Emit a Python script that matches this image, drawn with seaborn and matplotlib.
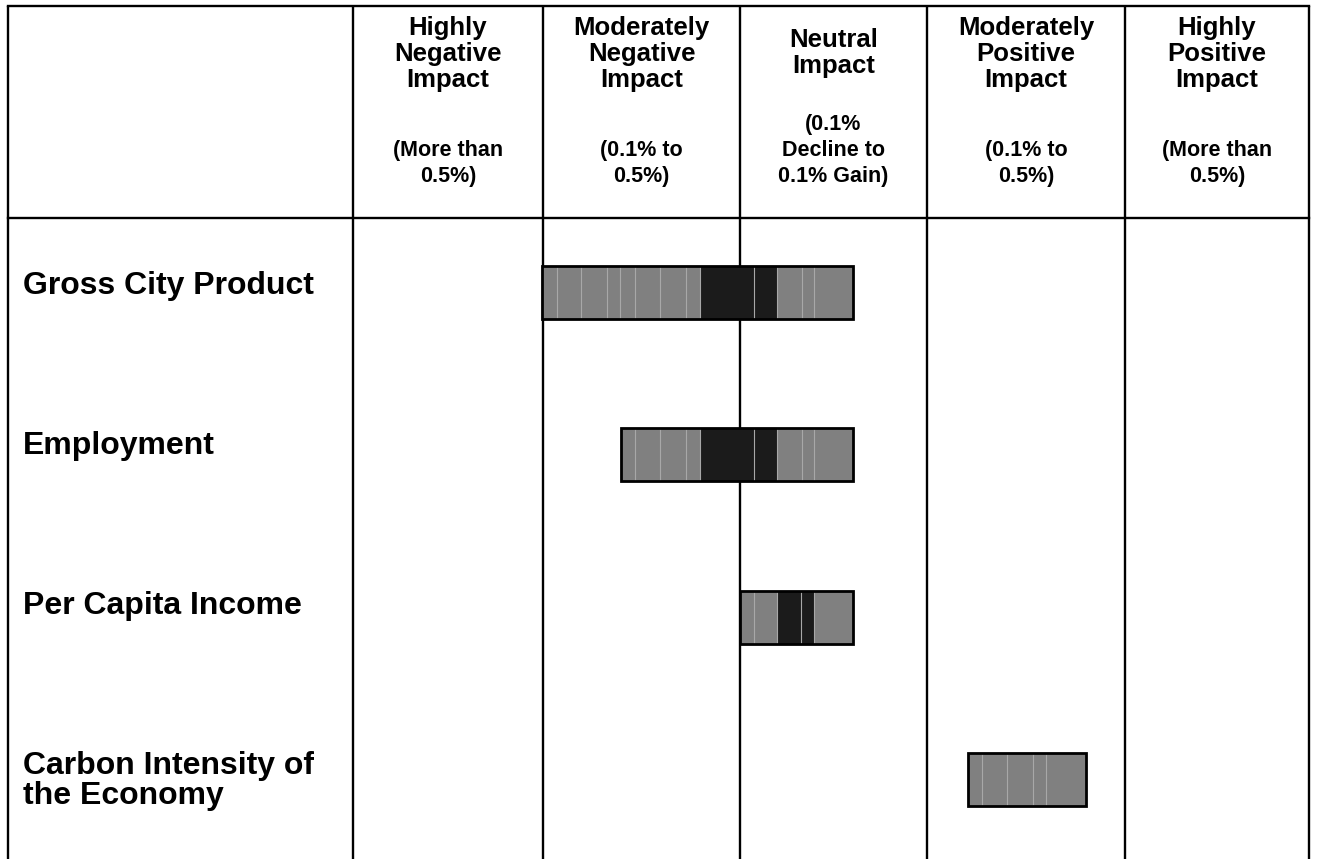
import matplotlib
matplotlib.use("Agg")
import matplotlib.pyplot as plt
import seaborn as sns

sns.set_theme(style="white")
plt.rcParams["font.family"] = ["Liberation Sans", "DejaVu Sans"]

# ---- table content -------------------------------------------------------
header_titles = [
    "Highly\nNegative\nImpact",
    "Moderately\nNegative\nImpact",
    "Neutral\nImpact",
    "Moderately\nPositive\nImpact",
    "Highly\nPositive\nImpact",
]
header_ranges = [
    "(More than\n0.5%)",
    "(0.1% to\n0.5%)",
    "(0.1%\nDecline to\n0.1% Gain)",
    "(0.1% to\n0.5%)",
    "(More than\n0.5%)",
]
indicators = [
    "Gross City Product",
    "Employment",
    "Per Capita Income",
    "Carbon Intensity of\nthe Economy",
]

# column boundaries on the impact scale (one unit per impact class)
column_edges = [0.0, 0.994, 2.024, 3.002, 4.038, 5.0]

# scenario results: segment boundaries (impact-class units) and segment kind
gcp_edges = [0.990, 1.065, 1.191, 1.330, 1.398, 1.476, 1.607, 1.743, 1.815,
             2.099, 2.216, 2.347, 2.413, 2.613]
gcp_kind = ["range"] * 8 + ["core"] * 2 + ["range"] * 3

emp_edges = [1.402, 1.476, 1.607, 1.743, 1.815, 2.099, 2.216, 2.347, 2.413, 2.613]
emp_kind = ["range"] * 4 + ["core"] * 2 + ["range"] * 3

pci_edges = [2.024, 2.099, 2.216, 2.343, 2.413, 2.613]
pci_kind = ["range"] * 2 + ["core"] * 2 + ["range"]

carbon_edges = [3.218, 3.291, 3.422, 3.558, 3.626, 3.834]
carbon_kind = ["range"] * 5

segment_edges = [gcp_edges, emp_edges, pci_edges, carbon_edges]
segment_kinds = [gcp_kind, emp_kind, pci_kind, carbon_kind]

kind_colors = {"range": "#808080", "core": "#1b1b1b"}

# ---- figure & coordinate frame ------------------------------------------
W, H, DPI = 1317, 859, 100
fig = plt.figure(figsize=(W / DPI, H / DPI), dpi=DPI)
ax = fig.add_axes([0, 0, 1, 1])

x0_px, x_scale = 353.0, 191.2      # pixel of impact-class 0, pixels per class
y0_px, y_scale = 218.0, 162.5      # pixel of header bottom, pixels per row
ax.set_xlim((0 - x0_px) / x_scale, (W - x0_px) / x_scale)
ax.set_ylim((H - y0_px) / y_scale, (0 - y0_px) / y_scale)
ax.axis("off")


def ypos(py):
    return (py - y0_px) / y_scale


left_border = (8 - x0_px) / x_scale
top_border = ypos(6)
bottom = ypos(H)

LW = 1.7
# grid lines
for xe in [left_border] + column_edges:
    ax.plot([xe, xe], [top_border, bottom], color="black", lw=LW,
            solid_capstyle="butt")
for ye in [top_border, 0.0]:
    ax.plot([left_border, column_edges[-1]], [ye, ye], color="black", lw=LW,
            solid_capstyle="projecting")

# header text
for i, (title, rng) in enumerate(zip(header_titles, header_ranges)):
    xc = (column_edges[i] + column_edges[i + 1]) / 2
    n_title = title.count("\n") + 1
    title_y = ypos(54) if n_title == 3 else ypos(53)
    ax.text(xc, title_y, title, ha="center", va="center", fontsize=18.5,
            fontweight="bold", linespacing=1.08, color="black")
    ax.text(xc, ypos(187), rng, ha="center", va="bottom",
            fontsize=15.5, fontweight="bold", linespacing=1.3, color="black")

# row labels and result bars
row_offset = 0.458
bar_h = 0.326
label_x = (23 - x0_px) / x_scale
label_y = [ypos(286), ypos(446), ypos(606), ypos(781)]

for r, (name, edges, kinds) in enumerate(zip(indicators, segment_edges, segment_kinds)):
    ax.text(label_x, label_y[r], name, ha="left", va="center", fontsize=23,
            fontweight="bold", linespacing=1.0, color="black")
    yc = r + row_offset
    starts = edges[:-1]
    widths = [b - a for a, b in zip(edges[:-1], edges[1:])]
    ax.barh([yc] * len(starts), widths, left=starts, height=bar_h,
            color=[kind_colors[k] for k in kinds], edgecolor="none", zorder=2)
    # thin separators between scenario segments
    ax.vlines(edges[1:-1], yc - bar_h / 2, yc + bar_h / 2, colors="#a8a8a8",
              lw=0.8, zorder=3)
    # outline of the full range
    ax.barh(yc, edges[-1] - edges[0], left=edges[0], height=bar_h,
            fill=False, edgecolor="black", lw=2.0, zorder=4)

fig.savefig("out.png", dpi=DPI, facecolor="white")
